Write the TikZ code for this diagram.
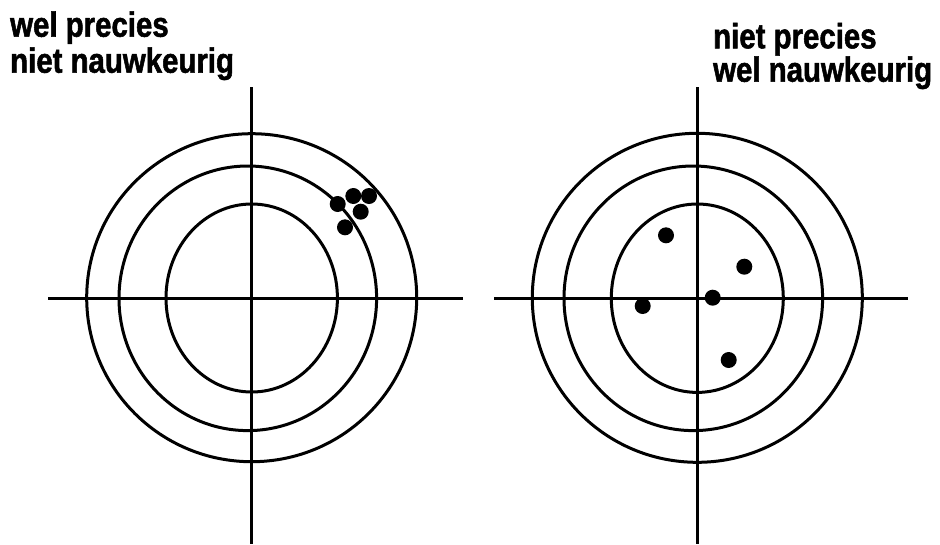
\documentclass[tikz,border=0pt]{standalone}
\usepackage{fontspec}
\setmainfont{Liberation Sans}
\newfontfamily\lblfont{Liberation Sans}[FakeStretch=0.84, FakeBold=1.5, UprightFont={* Bold}]
\tikzset{
  ring/.style={line width=3pt},
  axis/.style={line width=3pt},
  shot/.style={fill=black},
  lbl/.style={anchor=base west, inner sep=0pt, font=\lblfont\fontsize{35}{36}\selectfont}
}
\begin{document}
\begin{tikzpicture}[x=1pt,y=-1pt]
\useasboundingbox (0,0) rectangle (940,544);
% left target
\draw[axis] (251.5,87) -- (251.5,544);
\draw[axis] (48,298) -- (463,298);
\draw[ring] (251.7,297.7) ellipse [x radius=165, y radius=164];
\draw[ring] (247.8,298.3) ellipse [x radius=128.8, y radius=132.3];
\draw[ring] (251.7,298) ellipse [x radius=85.7, y radius=94];
\fill[shot] (337.7,204) circle (8);
\fill[shot] (353.3,196) circle (8);
\fill[shot] (369,196) circle (8);
\fill[shot] (360.7,211.7) circle (8);
\fill[shot] (345,227.3) circle (8);
% right target
\draw[axis] (697.3,87) -- (697.3,544);
\draw[axis] (494,298) -- (908,298);
\draw[ring] (697.3,297.8) ellipse [x radius=165, y radius=164.5];
\draw[ring] (693.3,298.3) ellipse [x radius=129.3, y radius=132.3];
\draw[ring] (697.3,298.2) ellipse [x radius=86, y radius=94.2];
\fill[shot] (666,235.3) circle (8);
\fill[shot] (744.3,266.7) circle (8);
\fill[shot] (712.7,297.7) circle (8);
\fill[shot] (642.7,306) circle (8);
\fill[shot] (728.7,360) circle (8);
% labels
\node[lbl] (l1) at (10,36.7) {wel precies};
\node[lbl] (l2) at (10,72.7) {niet nauwkeurig};
\node[lbl] (r1) at (713,48.3) {niet precies};
\node[lbl] (r2) at (713,81.7) {wel nauwkeurig};
\end{tikzpicture}
\end{document}
